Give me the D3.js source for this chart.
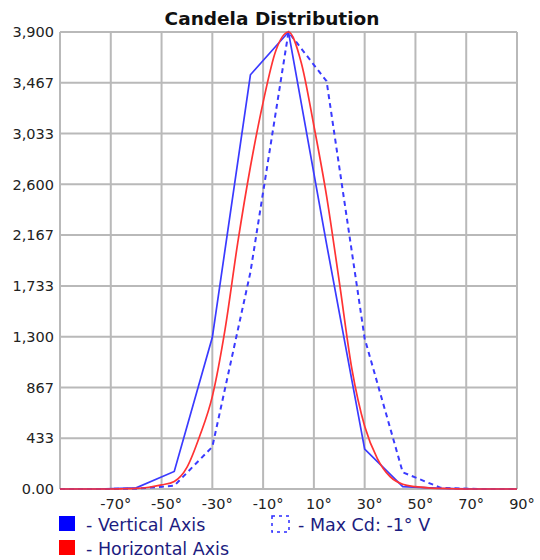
<!DOCTYPE html>
<html>
<head>
<meta charset="utf-8">
<script src="https://cdn.jsdelivr.net/npm/d3@7"></script>
<style>
  body { margin: 0; background: #fff; }
  text { font-family: "DejaVu Sans", Verdana, sans-serif; }
</style>
</head>
<body>
<script>
// angles every 15 deg for the two vertical-plane curves
const anglesV = [-90, -75, -60, -45, -30, -15, 0, 15, 30, 45, 60, 75, 90]
const verticalCd = [0, 0, 10, 150, 1295, 3535, 3900, 2090, 340, 20, 5, 0, 0]
const maxCdPlane = [0, 0, 3, 28, 360, 1850, 3900, 3480, 1285, 142, 10, 0, 0]

// horizontal plane, every 5 deg
const anglesH = [-90, -85, -80, -75, -70, -65, -60, -55, -50, -45, -40, -35, -30, -25, -20, -15, -10, -5, 0,
  5, 10, 15, 20, 25, 30, 35, 40, 45, 50, 55, 60, 65, 70, 75, 80, 85, 90]
const horizontalCd = [0, 0, 0, 0, 0, 2, 5, 15, 35, 65, 185, 450, 790, 1360, 2100, 2750, 3300, 3740, 3900,
  3640, 3100, 2500, 1770, 1020, 535, 260, 105, 40, 20, 10, 5, 2, 0, 0, 0, 0, 0]

const yTicks = [0, 433.33, 866.67, 1300, 1733.33, 2166.67, 2600, 3033.33, 3466.67, 3900]
const yTickLabels = ['0.00', '433', '867', '1,300', '1,733', '2,167', '2,600', '3,033', '3,467', '3,900']
const xGrid = [-90, -70, -50, -30, -10, 10, 30, 50, 70, 90]
const xTickLabels = ['-70°', '-50°', '-30°', '-10°', '10°', '30°', '50°', '70°', '90°']

const legendItems = ['- Vertical Axis', '- Horizontal Axis', '- Max Cd: -1° V']

let svg, x, y

function createSVG() {
  svg = d3.select('body').append('svg').attr('width', 540).attr('height', 560)
  x = d3.scaleLinear().domain([-90, 90]).range([60, 517])
  y = d3.scaleLinear().domain([0, 3900]).range([489, 32])
}

function drawTitle() {
  svg.append('text')
    .attr('x', 272)
    .attr('y', 25)
    .attr('text-anchor', 'middle')
    .attr('font-size', 18.5)
    .attr('font-weight', 'bold')
    .attr('fill', '#111')
    .text('Candela Distribution')
}

function drawGrid() {
  svg.selectAll('line.hgrid').data(yTicks).enter().append('line')
    .attr('class', 'hgrid')
    .attr('x1', x(-90)).attr('x2', x(90))
    .attr('y1', d => y(d)).attr('y2', d => y(d))
    .attr('stroke', '#b9b9b9').attr('stroke-width', 2)

  svg.selectAll('line.vgrid').data(xGrid).enter().append('line')
    .attr('class', 'vgrid')
    .attr('x1', d => x(d)).attr('x2', d => x(d))
    .attr('y1', y(0)).attr('y2', y(3900))
    .attr('stroke', '#b9b9b9').attr('stroke-width', 2)

  svg.selectAll('text.ylab').data(yTicks).enter().append('text')
    .attr('class', 'ylab')
    .attr('x', 54)
    .attr('y', d => y(d))
    .attr('dy', '0.36em')
    .attr('text-anchor', 'end')
    .attr('font-size', 14.5)
    .attr('fill', '#222')
    .text((d, i) => yTickLabels[i])

  svg.selectAll('text.xlab').data(xGrid.slice(1)).enter().append('text')
    .attr('class', 'xlab')
    .attr('x', d => x(d) + 5)
    .attr('y', 509)
    .attr('text-anchor', 'middle')
    .attr('font-size', 14.5)
    .attr('fill', '#222')
    .text((d, i) => xTickLabels[i])
}

function drawLines() {
  const straight = d3.line().x(d => x(d[0])).y(d => y(d[1]))
  const smooth = d3.line().x(d => x(d[0])).y(d => y(d[1])).curve(d3.curveMonotoneX)

  svg.append('path')
    .datum(anglesV.map((a, i) => [a, maxCdPlane[i]]))
    .attr('d', straight)
    .attr('fill', 'none')
    .attr('stroke', '#3a3aff')
    .attr('stroke-width', 2)
    .attr('stroke-dasharray', '5,4')

  svg.append('path')
    .datum(anglesV.map((a, i) => [a, verticalCd[i]]))
    .attr('d', straight)
    .attr('fill', 'none')
    .attr('stroke', '#3a3aff')
    .attr('stroke-width', 1.7)

  svg.append('path')
    .datum(anglesH.map((a, i) => [a, horizontalCd[i]]))
    .attr('d', smooth)
    .attr('fill', 'none')
    .attr('stroke', '#ff3333')
    .attr('stroke-width', 1.7)
}

function drawLegend() {
  svg.append('rect').attr('x', 59).attr('y', 516).attr('width', 16).attr('height', 15).attr('fill', '#0000ff')
  svg.append('rect').attr('x', 59).attr('y', 540).attr('width', 16).attr('height', 15).attr('fill', '#ff0000')
  svg.append('rect').attr('x', 272).attr('y', 516).attr('width', 17).attr('height', 16)
    .attr('fill', 'none').attr('stroke', '#2a2aff').attr('stroke-width', 1.5).attr('stroke-dasharray', '3,4')

  const pos = [[86, 531], [86, 555], [298, 531]]
  svg.selectAll('text.leg').data(legendItems).enter().append('text')
    .attr('class', 'leg')
    .attr('x', (d, i) => pos[i][0])
    .attr('y', (d, i) => pos[i][1])
    .attr('font-size', 17.5)
    .attr('fill', '#1c1c80')
    .text(d => d)
}

createSVG()
drawGrid()
drawLines()
drawTitle()
drawLegend()
</script>
</body>
</html>
